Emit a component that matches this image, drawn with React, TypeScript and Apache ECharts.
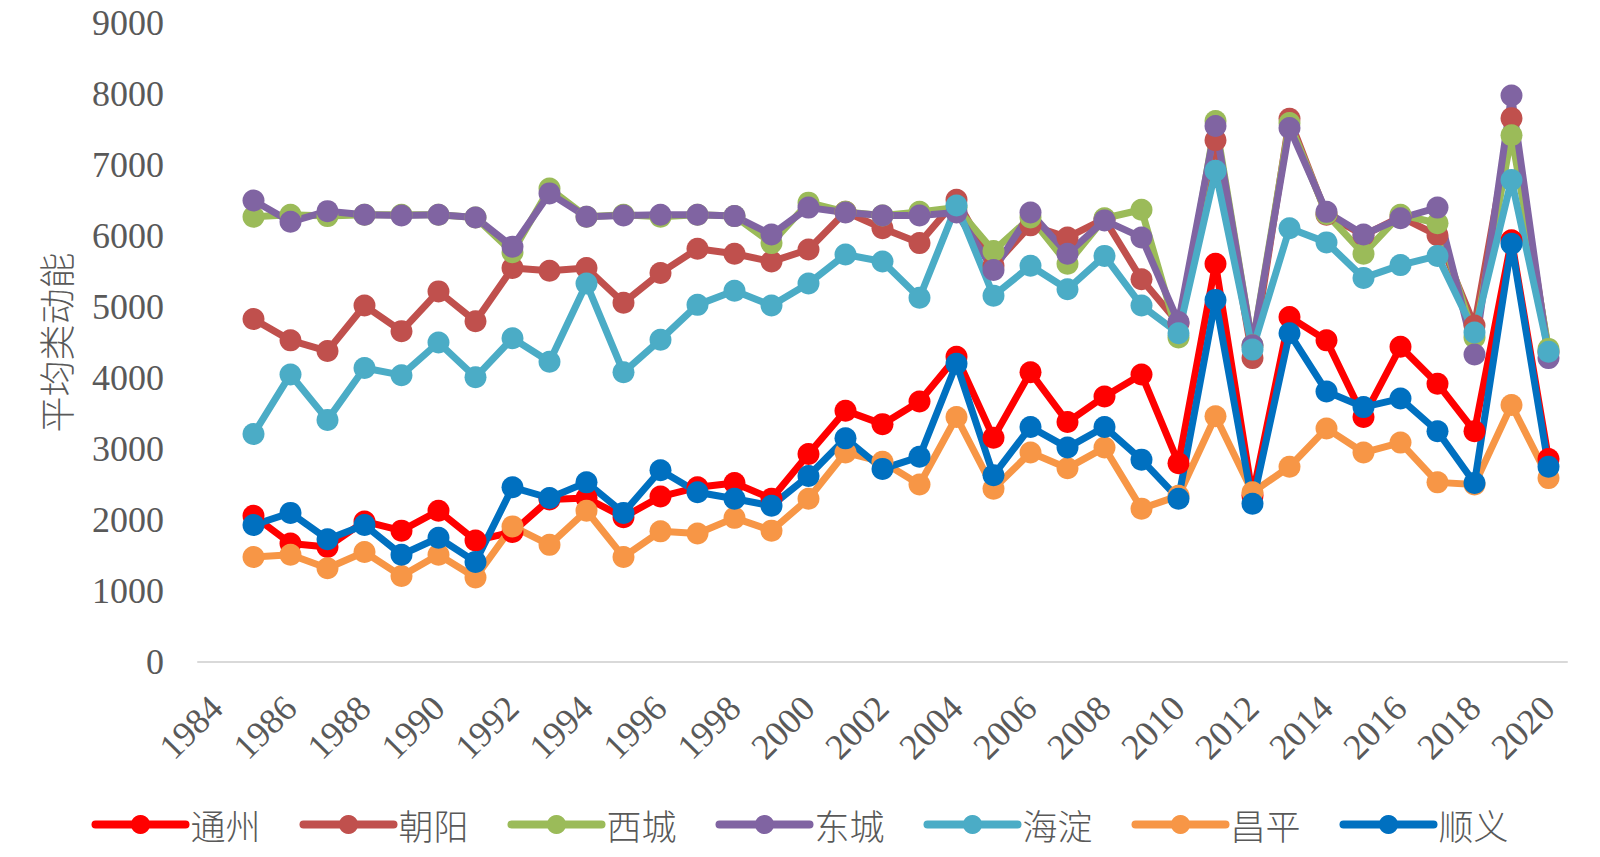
import React, { useEffect, useRef } from "react";
import * as echarts from "echarts";

const years: number[] = [
  1985, 1986, 1987, 1988, 1989, 1990, 1991, 1992, 1993, 1994, 1995, 1996,
  1997, 1998, 1999, 2000, 2001, 2002, 2003, 2004, 2005, 2006, 2007, 2008,
  2009, 2010, 2011, 2012, 2013, 2014, 2015, 2016, 2017, 2018, 2019, 2020,
];

const tickYears: number[] = [
  1984, 1986, 1988, 1990, 1992, 1994, 1996, 1998, 2000, 2002, 2004, 2006,
  2008, 2010, 2012, 2014, 2016, 2018, 2020,
];

const seriesNames: string[] = ["通州", "朝阳", "西城", "东城", "海淀", "昌平", "顺义"];
const seriesColors: string[] = ["#FF0000", "#C0504D", "#9BBB59", "#8064A2", "#4BACC6", "#F79646", "#0070C0"];

const tongzhou: number[] = [
  2060, 1670, 1620, 1980, 1850, 2130, 1710, 1830, 2290, 2310, 2040, 2330,
  2460, 2520, 2300, 2930, 3540, 3350, 3670, 4300, 3160, 4080, 3380, 3740,
  4050, 2800, 5610, 2340, 4860, 4530, 3450, 4440, 3920, 3250, 5940, 2860,
];
const chaoyang: number[] = [
  4830, 4530, 4380, 5020, 4660, 5220, 4800, 5550, 5510, 5550, 5060, 5480,
  5820, 5750, 5640, 5810, 6340, 6110, 5900, 6510, 5580, 6150, 5980, 6240,
  5390, 4770, 7350, 4280, 7650, 6300, 6010, 6270, 6010, 4740, 7660, 4360,
];
const xicheng: number[] = [
  6270, 6300, 6280, 6300, 6300, 6300, 6260, 5770, 6670, 6270, 6300, 6270,
  6300, 6280, 5900, 6470, 6340, 6290, 6340, 6400, 5790, 6260, 5610, 6250,
  6370, 4570, 7620, 4460, 7590, 6310, 5750, 6300, 6180, 4570, 7420, 4410,
];
const dongcheng: number[] = [
  6500, 6200, 6350, 6300, 6290, 6300, 6260, 5850, 6600, 6270, 6290, 6300,
  6300, 6280, 6020, 6400, 6330, 6290, 6290, 6330, 5520, 6330, 5750, 6220,
  5980, 4790, 7550, 4460, 7520, 6340, 6020, 6250, 6400, 4330, 7980, 4280,
];
const haidian: number[] = [
  3210, 4050, 3410, 4140, 4040, 4500, 4010, 4560, 4230, 5330, 4080, 4540,
  5030, 5230, 5020, 5330, 5740, 5640, 5130, 6430, 5160, 5580, 5250, 5720,
  5020, 4630, 6920, 4400, 6110, 5910, 5410, 5590, 5720, 4640, 6790, 4370,
];
const changping: number[] = [
  1480, 1510, 1320, 1550, 1210, 1510, 1190, 1910, 1650, 2130, 1480, 1840,
  1810, 2030, 1850, 2300, 2950, 2820, 2500, 3450, 2440, 2950, 2730, 3020,
  2160, 2340, 3460, 2390, 2750, 3290, 2950, 3090, 2530, 2500, 3620, 2590,
];
const shunyi: number[] = [
  1930, 2100, 1730, 1930, 1510, 1750, 1410, 2460, 2310, 2530, 2100, 2700,
  2390, 2300, 2200, 2620, 3150, 2720, 2890, 4200, 2630, 3310, 3020, 3310,
  2850, 2300, 5100, 2230, 4630, 3810, 3590, 3710, 3250, 2520, 5890, 2750,
];

const seriesValues: number[][] = [tongzhou, chaoyang, xicheng, dongcheng, haidian, changping, shunyi];

const FONT = "'Liberation Serif', 'Times New Roman', 'Noto Sans CJK SC', serif";
const CJK = "'Noto Sans CJK SC', sans-serif";
const GRAY = "#595959";

export default function App() {
  const ref = useRef<HTMLDivElement>(null);

  useEffect(() => {
    document.body.style.margin = "0";
    if (!ref.current) return;
    const chart = echarts.init(ref.current, undefined, { renderer: "svg" });
    const option: any = {
      animation: false,
      backgroundColor: "#ffffff",
      textStyle: { fontFamily: FONT },
      grid: { left: 198, right: 33, top: 23, bottom: 195, containLabel: false },
      legend: {
        bottom: 10,
        left: "center",
        itemWidth: 90,
        itemHeight: 24,
        itemGap: 39,
        data: seriesNames,
        lineStyle: { width: 8, cap: "round" },
        textStyle: { fontSize: 35, color: GRAY, fontFamily: CJK, fontWeight: 300 },
      },
      xAxis: {
        type: "value",
        min: 1983.5,
        max: 2020.5,
        axisLine: { show: true, lineStyle: { color: "#D9D9D9", width: 2 } },
        axisTick: { show: false },
        splitLine: { show: false },
        axisLabel: {
          customValues: tickYears,
          rotate: 45,
          margin: 40,
          fontSize: 36,
          color: GRAY,
          fontFamily: FONT,
          formatter: (v: number) => String(v),
        },
      },
      yAxis: {
        type: "value",
        min: 0,
        max: 9000,
        interval: 1000,
        name: "平均类动能",
        nameLocation: "middle",
        nameGap: 125,
        nameRotate: 90,
        nameTextStyle: { fontSize: 36, color: GRAY, fontFamily: CJK, fontWeight: 300 },
        axisLine: { show: false },
        axisTick: { show: false },
        splitLine: { show: false },
        axisLabel: {
          fontSize: 36,
          color: GRAY,
          margin: 34,
          fontFamily: FONT,
          formatter: (v: number) => String(v),
        },
      },
      series: seriesNames.map((name, i) => ({
        name,
        type: "line",
        data: years.map((y, j) => [y, seriesValues[i][j]]),
        symbol: "circle",
        symbolSize: 22,
        showSymbol: true,
        color: seriesColors[i],
        lineStyle: { width: 7, color: seriesColors[i] },
        itemStyle: { color: seriesColors[i] },
      })),
    };
    chart.setOption(option);
    return () => chart.dispose();
  }, []);

  return (
    <div
      ref={ref}
      style={{ position: "fixed", left: 0, top: 0, width: 1600, height: 857 }}
    />
  );
}
